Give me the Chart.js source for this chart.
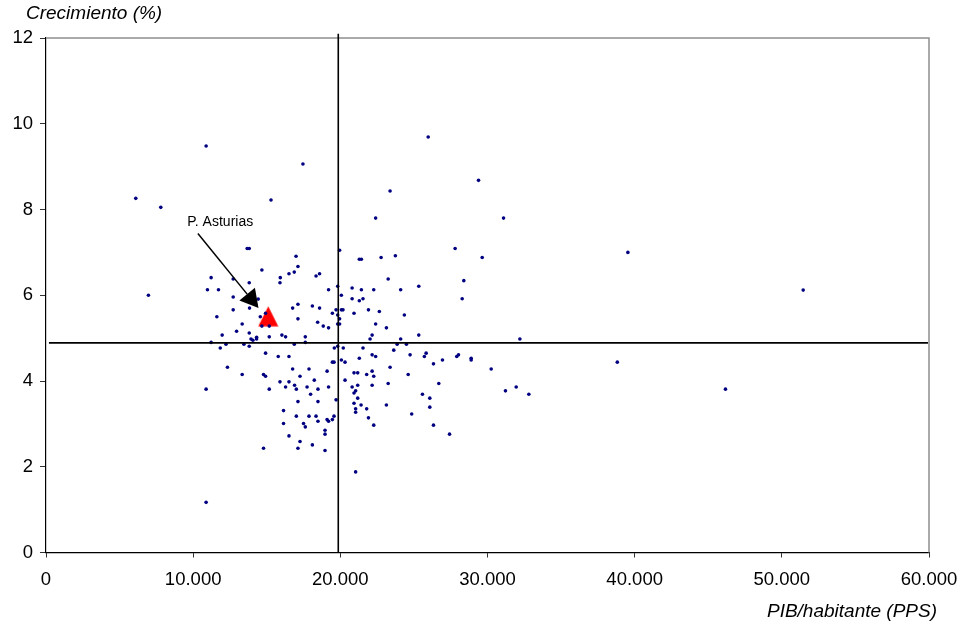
<!DOCTYPE html>
<html>
<head>
<meta charset="utf-8">
<script src="https://cdn.jsdelivr.net/npm/chart.js@4.4.1/dist/chart.umd.min.js"></script>
<style>
  html, body { margin: 0; padding: 0; background: #fff; }
  #wrap { width: 965px; height: 627px; }
</style>
</head>
<body>
<div id="wrap"><canvas id="scatterChart" width="965" height="627"></canvas></div>
<script>
// PIB por habitante (PPS) de cada region
var regionX = [
  17460, 6100, 7800, 15290, 13670, 13810, 19950, 16990, 17120, 14670,
  11220, 12720, 16510, 16870, 15920, 15900, 18350, 18590, 13810, 10970,
  11720, 19200, 19820, 20070, 6960, 12720, 14420, 13830, 12720, 14920,
  16760, 17120, 18100, 18590, 19710, 19460, 19820, 20070, 19950, 11610,
  17120, 18460, 18840, 19200, 19820, 19950, 13330, 14670, 15170, 12950,
  11970, 13810, 13930, 14060, 14310, 14310, 15170, 16030, 16280, 17620,
  17620, 16870, 11220, 11840, 12230, 13450, 13810, 19590, 19820, 20200,
  14560, 14920, 15780, 16510, 19460, 19570, 20070, 20320, 12330, 16760,
  17870, 19100, 13330, 14780, 14920, 17260, 18230, 20320, 15900, 16510,
  16890, 16280, 17010, 17740, 18480, 19200, 10880, 15170, 17980, 17120,
  18480, 19710, 16140, 17010, 17870, 18350, 19570, 19100, 19200, 19460,
  18480, 16140, 17500, 17620, 18960, 18960, 16510, 17260, 18100, 17120,
  18960, 14780, 10880, 29390, 23380, 22400, 31090, 27800, 29640, 21290,
  21430, 22770, 23740, 23250, 28390, 28280, 20800, 21430, 22270, 24100,
  25330, 20800, 21290, 21540, 20180, 20930, 21910, 22650, 24350, 22400,
  23130, 22160, 22020, 24100, 25330, 32200, 23860, 24490, 21540, 23630,
  21290, 22160, 22400, 24740, 25710, 25830, 26330, 26940, 27910, 28030,
  28890, 28890, 30250, 23380, 20930, 21180, 21790, 22160, 22270, 24610,
  20800, 21180, 20930, 21040, 22160, 23250, 26690, 31220, 31950, 32810,
  21180, 20930, 21410, 21040, 21040, 21790, 23130, 25580, 26080, 26080,
  24850, 21910, 22270, 26330, 27420, 21040, 39540, 51450, 38820, 46170,
  10880, 25970
];
// Crecimiento (%) de cada region
var regionY = [
  9.06, 8.26, 8.05, 8.22, 7.09, 7.09, 7.05, 6.91, 6.67, 6.59,
  6.41, 6.38, 6.50, 6.54, 6.41, 6.29, 6.45, 6.50, 6.29, 6.13,
  6.13, 6.13, 6.21, 6.00, 6.00, 5.96, 5.91, 5.70, 5.66, 5.58,
  5.70, 5.79, 5.75, 5.70, 5.66, 5.58, 5.54, 5.66, 5.45, 5.50,
  5.45, 5.37, 5.28, 5.24, 5.33, 5.33, 5.33, 5.28, 5.28, 5.16,
  5.07, 5.12, 4.98, 4.95, 5.02, 4.98, 5.03, 5.07, 5.03, 5.03,
  4.90, 4.86, 4.90, 4.77, 4.86, 4.86, 4.81, 4.77, 4.81, 4.77,
  5.50, 4.65, 4.57, 4.57, 4.44, 4.44, 4.49, 4.44, 4.32, 4.28,
  4.28, 4.23, 4.15, 4.15, 4.11, 4.11, 4.02, 4.02, 3.98, 3.98,
  3.90, 3.86, 3.81, 3.86, 3.81, 3.86, 3.81, 3.81, 3.69, 3.52,
  3.52, 3.56, 3.31, 3.18, 3.18, 3.18, 3.18, 3.10, 3.06, 3.10,
  3.06, 3.01, 3.01, 2.93, 2.85, 2.76, 2.72, 2.59, 2.51, 2.43,
  2.38, 2.43, 1.17, 8.68, 8.43, 7.80, 7.80, 7.09, 6.88, 6.84,
  6.84, 6.88, 6.92, 6.38, 6.34, 5.92, 6.17, 6.13, 6.13, 6.13,
  6.21, 5.92, 5.87, 5.92, 5.66, 5.58, 5.66, 5.62, 5.54, 5.33,
  5.24, 5.07, 4.98, 4.98, 5.07, 4.98, 4.86, 4.86, 4.77, 4.72,
  4.53, 4.61, 4.57, 4.61, 4.57, 4.65, 4.40, 4.49, 4.57, 4.61,
  4.53, 4.49, 4.28, 4.32, 4.19, 4.19, 4.15, 4.23, 4.11, 4.15,
  3.86, 3.90, 3.72, 3.77, 3.90, 3.94, 3.94, 3.77, 3.86, 3.69,
  3.60, 3.48, 3.44, 3.35, 3.27, 3.35, 3.44, 3.69, 3.60, 3.39,
  3.23, 3.14, 2.97, 2.97, 2.76, 1.88, 7.00, 6.12, 4.44, 3.81,
  9.48, 9.69
];

// Principado de Asturias
var asturias = { x: 15100, y: 5.51, label: "P. Asturias" };
var labelPos = { x: 11840, y: 7.70 };
var arrowFrom = { x: 10320, y: 7.44 };
var arrowTo = { x: 14440, y: 5.70 };

// medias (lineas de referencia)
var meanX = 19860;
var meanY = 4.89;

var xTicks = [0, 10000, 20000, 30000, 40000, 50000, 60000];
var yTicks = [0, 2, 4, 6, 8, 10, 12];

var FONT = "'Liberation Sans', Arial, sans-serif";

function fmtMiles(v) {
    if (v === 0) return "0";
    return String(v / 1000) + ".000";
}

var regionPoints = regionX.map(function (x, i) {
    return { x: x, y: regionY[i] };
});

// triangulo rojo como en Excel (alto = ancho)
var tri = document.createElement("canvas");
tri.width = 21;
tri.height = 21;
var tctx = tri.getContext("2d");
tctx.fillStyle = "#ff0000";
tctx.beginPath();
tctx.moveTo(10.5, 0.5);
tctx.lineTo(20.5, 20.5);
tctx.lineTo(0.5, 20.5);
tctx.closePath();
tctx.fill();

var extras = {
    id: "extras",
    beforeDatasetsDraw: function (chart) {
        var c = chart.ctx, a = chart.chartArea;
        c.save();
        c.strokeStyle = "#8f8f8f";
        c.lineWidth = 1.5;
        c.beginPath();
        c.moveTo(a.left, a.top);
        c.lineTo(a.right, a.top);
        c.lineTo(a.right, a.bottom);
        c.stroke();
        c.restore();
    },
    afterDatasetsDraw: function (chart) {
        var c = chart.ctx;
        var sx = chart.scales.x, sy = chart.scales.y;
        c.save();
        // titulos de ejes
        c.fillStyle = "#000";
        c.font = "italic 19px " + FONT;
        c.textBaseline = "alphabetic";
        c.textAlign = "left";
        c.fillText("Crecimiento (%)", 26, 19);
        c.textAlign = "right";
        c.fillText("PIB/habitante (PPS)", 937, 617);

        // etiqueta y flecha
        c.font = "14px " + FONT;
        c.textAlign = "center";
        c.textBaseline = "middle";
        c.fillText(asturias.label, sx.getPixelForValue(labelPos.x), sy.getPixelForValue(labelPos.y));

        var x0 = sx.getPixelForValue(arrowFrom.x), y0 = sy.getPixelForValue(arrowFrom.y);
        var x1 = sx.getPixelForValue(arrowTo.x), y1 = sy.getPixelForValue(arrowTo.y);
        var ang = Math.atan2(y1 - y0, x1 - x0);
        var hl = 18, hw = 10;
        var bx = x1 - hl * Math.cos(ang), by = y1 - hl * Math.sin(ang);
        c.strokeStyle = "#000";
        c.lineWidth = 1.5;
        c.beginPath();
        c.moveTo(x0, y0);
        c.lineTo(bx, by);
        c.stroke();
        c.beginPath();
        c.moveTo(x1, y1);
        c.lineTo(bx + hw * Math.sin(ang), by - hw * Math.cos(ang));
        c.lineTo(bx - hw * Math.sin(ang), by + hw * Math.cos(ang));
        c.closePath();
        c.fillStyle = "#000";
        c.fill();
        c.restore();
    }
};

var ctx = document.getElementById("scatterChart").getContext("2d");
var chart = new Chart(ctx, {
    type: "scatter",
    data: {
        datasets: [
            {
                label: "media PIB",
                data: [{ x: meanX, y: 0 }, { x: meanX, y: 12.1 }],
                showLine: true,
                borderColor: "#000",
                borderWidth: 1.6,
                pointRadius: 0,
                clip: false
            },
            {
                label: "media crecimiento",
                data: [{ x: 200, y: meanY }, { x: 59930, y: meanY }],
                showLine: true,
                borderColor: "#000",
                borderWidth: 1.6,
                pointRadius: 0
            },
            {
                label: "Regiones",
                data: regionPoints,
                backgroundColor: "#000080",
                borderWidth: 0,
                pointRadius: 1.8,
                pointHoverRadius: 1.8
            },
            {
                label: asturias.label,
                data: [{ x: asturias.x, y: asturias.y }],
                pointStyle: tri,
                pointRadius: 10
            }
        ]
    },
    options: {
        responsive: false,
        animation: false,
        events: [],
        layout: { padding: { top: 38, right: 36, left: 0, bottom: 0 } },
        plugins: {
            legend: { display: false },
            tooltip: { enabled: false }
        },
        scales: {
            x: {
                type: "linear",
                min: 0,
                max: 60000,
                afterBuildTicks: function (s) {
                    s.ticks = xTicks.map(function (v) { return { value: v }; });
                },
                afterFit: function (s) {
                    s.height = 74.5;
                    s.paddingLeft = 0;
                    s.paddingRight = 0;
                },
                border: { display: true, color: "#000", width: 1.2 },
                grid: { drawOnChartArea: false, drawTicks: true, tickLength: 5, color: "#333" },
                ticks: {
                    color: "#000",
                    padding: 11,
                    maxRotation: 0,
                    font: { family: FONT, size: 18.5 },
                    callback: function (v) { return fmtMiles(v); }
                }
            },
            y: {
                type: "linear",
                min: 0,
                max: 12,
                afterBuildTicks: function (s) {
                    s.ticks = yTicks.map(function (v) { return { value: v }; });
                },
                afterFit: function (s) {
                    s.width = 46;
                    s.paddingTop = 0;
                    s.paddingBottom = 0;
                },
                border: { display: true, color: "#000", width: 1.2 },
                grid: { drawOnChartArea: false, drawTicks: true, tickLength: 6, color: "#333" },
                ticks: {
                    color: "#000",
                    padding: 7,
                    font: { family: FONT, size: 18.5 }
                }
            }
        }
    },
    plugins: [extras]
});
</script>
</body>
</html>
